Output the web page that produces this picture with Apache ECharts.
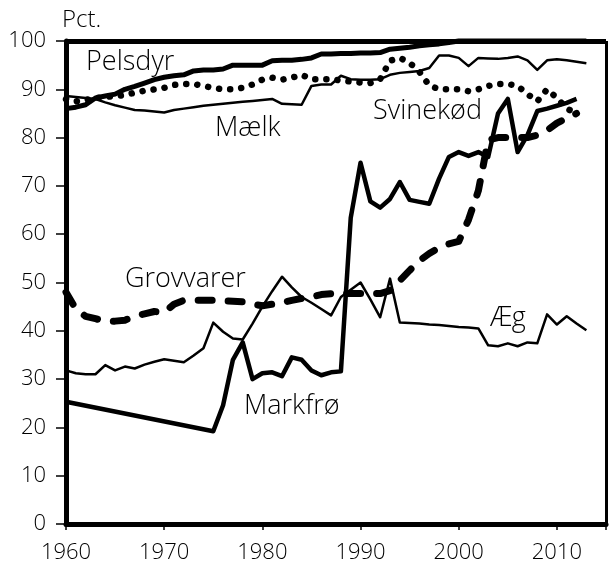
<!DOCTYPE html>
<html>
<head>
<meta charset="utf-8">
<script src="https://cdn.jsdelivr.net/npm/echarts@6/dist/echarts.min.js"></script>
<style>
html,body{margin:0;padding:0;background:#fff;}
#chart{width:610px;height:570px;}
</style>
</head>
<body>
<div id="chart"></div>
<script>
var years = [1960,1961,1962,1963,1964,1965,1966,1967,1968,1969,
	1970,1971,1972,1973,1974,1975,1976,1977,1978,1979,
	1980,1981,1982,1983,1984,1985,1986,1987,1988,1989,
	1990,1991,1992,1993,1994,1995,1996,1997,1998,1999,
	2000,2001,2002,2003,2004,2005,2006,2007,2008,2009,
	2010,2011,2012,2013];

var pelsdyr = [86,86.3,86.8,88.2,88.6,89,90,90.6,91.3,92,
	92.5,92.8,93,93.8,94,94,94.2,95,95,95,
	95,95.9,96,96,96.2,96.5,97.3,97.3,97.4,97.4,
	97.5,97.5,97.6,98.3,98.5,98.7,99,99.2,99.4,99.7,
	100,100,100,100,100,100,100,100,100,100,
	100,100,100,100];

var maelk = [88.6,88.4,88.2,88,87.3,86.7,86.2,85.7,85.6,85.4,
	85.2,85.7,86,86.3,86.6,86.8,87,87.2,87.4,87.6,
	87.8,88,87,86.9,86.8,90.7,91,91,92.8,92.1,
	92,92,92.1,93,93.4,93.6,93.8,94.4,97,97,
	96.5,94.8,96.5,96.4,96.3,96.5,96.8,96,94,96,
	96.2,96,95.7,95.4];

var svinekod = [88,87.5,87.8,88.2,88.4,88.6,88.8,89.3,89.7,90,
	90.3,90.9,91.1,91.1,90.7,90.3,90,90,90.3,91,
	92,92.4,92,92.4,93,92.1,92.1,92.1,91.8,91.6,
	91.4,91.3,92.1,95.9,96.5,95.5,93.6,90.8,90,90,
	90,89.6,90,90.7,91.1,91.1,90.7,89,87.5,90,
	88.2,86,85,null];

var markfro = [25.3,null,null,null,null,null,null,null,null,null,
	null,null,null,null,null,19.2,24.6,34,37.6,30,
	31.2,31.4,30.6,34.5,34,31.8,30.8,31.4,31.6,63.4,
	74.8,66.8,65.5,67.3,70.8,67.1,66.7,66.3,71.5,76,
	77,76.2,77,76,85,88,77,80.5,85.5,86,
	86.6,87.2,88,null];

var grovvarer = [48,44.5,43,42.5,42,42,42.2,43,43.5,44,
	43.8,45.5,46.3,46.3,46.3,46.3,46.2,46.1,46,45.5,
	45.2,45.5,45.8,46.3,46.7,47,47.5,47.7,47.7,47.7,
	47.7,47.7,47.7,48.3,50.4,52.5,54.5,56,57.2,58,
	58.5,63,69,79.5,80,80,80,80,80.5,81.5,
	83,84,85,null];

var aeg = [31.8,31.2,31,31,32.9,31.8,32.6,32.2,33,33.6,
	34.1,33.8,33.5,34.9,36.4,41.7,39.8,38.4,38.2,41.5,
	45,48.2,51.2,49,47,45.8,44.5,43.2,47,48.5,
	50,46.5,42.8,50.8,41.7,41.6,41.5,41.3,41.2,41,
	40.8,40.7,40.5,37,36.8,37.4,36.8,37.6,37.4,43.4,
	41.3,43,41.5,40.1];

var yTicks = [0,10,20,30,40,50,60,70,80,90,100];
var xTicks = [1960,1970,1980,1990,2000,2010];
var yTop = 100;
var xEnd = 2015;

function pairs(vals){
	var out = [];
	for (var i = 0; i < years.length; i++) {
		out.push([years[i], vals[i]]);
	}
	return out;
}

var font = "'Open Sans', 'Noto Sans', sans-serif";
var mychart = echarts.init(document.getElementById('chart'));

function lineSeries(name, vals, width, dash, connect){
	return {
		name: name,
		type: 'line',
		data: pairs(vals),
		symbol: 'none',
		connectNulls: !!connect,
		clip: false,
		z: 3,
		lineStyle: {
			color: '#000',
			width: width,
			type: dash || 'solid',
			cap: dash ? 'round' : 'butt',
			join: 'round'
		}
	};
}

function label(text, x, y, size){
	return {
		type: 'text', x: x, y: y, z: 10,
		style: {text: text, font: '300 ' + (size || 27) + 'px ' + font, fill: '#000', verticalAlign: 'middle'}
	};
}

var pelsSeries = lineSeries('Pelsdyr', pelsdyr, 5);
//框线 (top and right edge of the plot box)
pelsSeries.markLine = {
	silent: true,
	symbol: 'none',
	label: {show: false},
	animation: false,
	data: [
		{yAxis: yTop, lineStyle: {color: '#000', width: 5, type: 'solid'}},
		{xAxis: xEnd, lineStyle: {color: '#000', width: 3, type: 'solid'}}
	]
};

var option = {
	animation: false,
	backgroundColor: '#fff',
	textStyle: {fontFamily: font},
	grid: {left: 66, right: 4, top: 41, bottom: 46},
	xAxis: {
		type: 'value',
		min: 1960,
		max: 2015,
		interval: 10,
		axisLine: {show: true, lineStyle: {color: '#000', width: 5}},
		axisTick: {show: true, length: 6, lineStyle: {color: '#000', width: 1.5}},
		axisLabel: {
			color: '#000', fontSize: 22, fontWeight: 300, fontFamily: font, margin: 18,
			formatter: function(v){ return xTicks.indexOf(v) >= 0 ? String(v) : ''; }
		},
		splitLine: {show: false}
	},
	yAxis: {
		type: 'value',
		min: 0,
		max: 100,
		interval: 10,
		axisLine: {show: true, lineStyle: {color: '#000', width: 5}},
		axisTick: {show: true, length: 10, lineStyle: {color: '#000', width: 1.5}},
		axisLabel: {
			color: '#000', fontSize: 22, fontWeight: 300, fontFamily: font, margin: 20,
			formatter: function(v){ return yTicks.indexOf(v) >= 0 ? String(v) : ''; }
		},
		splitLine: {show: false}
	},
	graphic: [
		label('Pct.', 62, 20, 24),
		label('Pelsdyr', 86, 62),
		label('Mælk', 215, 128),
		label('Svinekød', 373, 111),
		label('Grovvarer', 125, 279),
		label('Æg', 490, 318),
		label('Markfrø', 244, 406)
	],
	series: [
		lineSeries('Æg', aeg, 2.5),
		lineSeries('Mælk', maelk, 2.5),
		lineSeries('Markfrø', markfro, 4.5, null, true),
		pelsSeries,
		lineSeries('Grovvarer', grovvarer, 7, [14, 16]),
		lineSeries('Svinekød', svinekod, 6.5, [0.1, 11])
	]
};
mychart.setOption(option);
</script>
</body>
</html>
